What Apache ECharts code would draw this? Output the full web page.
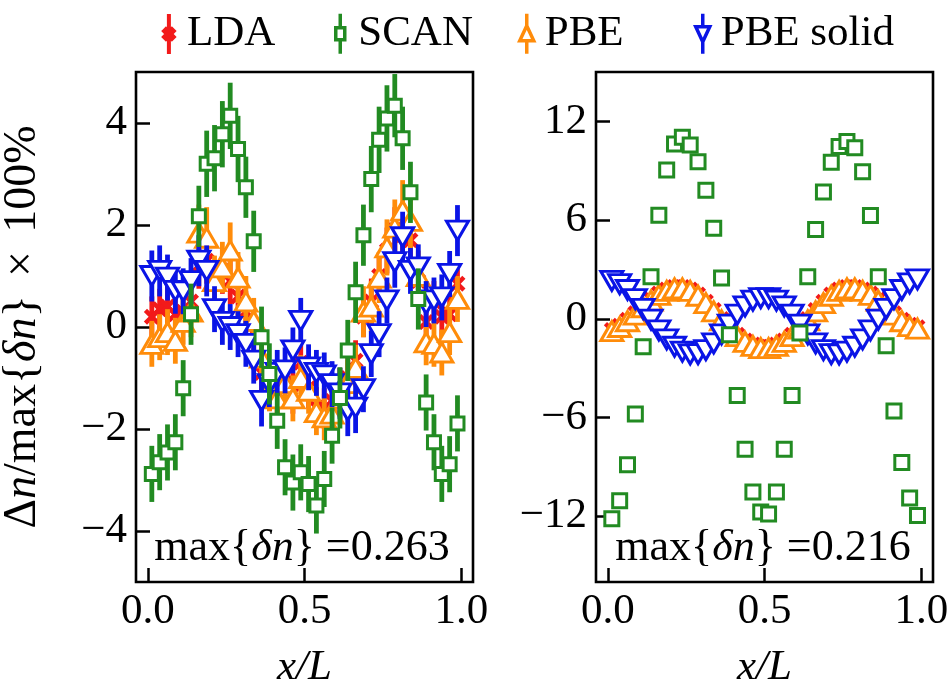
<!DOCTYPE html>
<html><head><meta charset="utf-8">
<script src="https://cdn.jsdelivr.net/npm/echarts@6/dist/echarts.min.js"></script>
<style>html,body{margin:0;padding:0;background:#fff}#c{width:948px;height:693px}</style>
</head><body><div id="c"></div>
<script>
// ---------- data ----------
const xs = [0.0125,0.0375,0.0625,0.0875,0.1125,0.1375,0.1625,0.1875,0.2125,0.2375,0.2625,0.2875,0.3125,0.3375,0.3625,0.3875,0.4125,0.4375,0.4625,0.4875,0.5125,0.5375,0.5625,0.5875,0.6125,0.6375,0.6625,0.6875,0.7125,0.7375,0.7625,0.7875,0.8125,0.8375,0.8625,0.8875,0.9125,0.9375,0.9625,0.9875];

// left panel (max{dn}=0.263), values and error bars
const ldaLeft  = [0.2,0.35,0.4,0.25,0.3,0.5,1.2,1.3,0.85,1.1,0.9,0.6,0.3,-0.1,-0.9,-1.25,-1.3,-1.1,-1.3,-0.7,-1.2,-1.58,-1.6,-1.45,-1.2,-1.0,-0.66,0.2,0.5,1.0,1.5,1.9,1.8,1.7,0.9,0.1,0.5,0.2,0.25,0.85];
const ldaLeftErr = [0.4,0.4,0.4,0.4,0.4,0.4,0.45,0.45,0.45,0.45,0.45,0.4,0.4,0.4,0.4,0.4,0.4,0.4,0.4,0.4,0.4,0.4,0.4,0.4,0.4,0.4,0.4,0.4,0.45,0.45,0.45,0.45,0.45,0.45,0.4,0.4,0.4,0.4,0.4,0.4];
const scanLeft = [-2.88,-2.65,-2.46,-2.26,-1.2,0.25,2.17,3.2,3.31,3.78,4.14,3.49,2.74,1.68,-0.2,-0.92,-1.84,-2.75,-3.05,-2.85,-3.08,-3.5,-2.98,-2.13,-1.39,-0.46,0.68,1.8,2.9,3.67,4.09,4.34,3.7,2.64,0.55,-1.48,-2.26,-2.88,-2.69,-1.89];
const scanLeftErr = [0.55,0.55,0.55,0.55,0.55,0.6,0.6,0.65,0.65,0.65,0.65,0.65,0.6,0.6,0.6,0.6,0.55,0.55,0.55,0.55,0.55,0.55,0.55,0.55,0.6,0.6,0.6,0.6,0.65,0.65,0.65,0.62,0.62,0.6,0.6,0.55,0.55,0.55,0.55,0.55];
const pbeLeft  = [-0.33,-0.2,-0.1,-0.27,0.1,0.3,1.85,1.75,0.9,1.17,1.5,0.97,0.5,0.12,-0.6,-1.2,-1.4,-1.1,-1.4,-1.0,-1.25,-1.67,-1.77,-1.7,-1.4,-1.1,-0.8,0.3,0.4,0.97,1.56,1.95,2.28,2.08,1.0,-0.3,-0.33,-0.5,-0.1,0.55];
const pbeLeftErr = [0.45,0.45,0.45,0.45,0.45,0.5,0.55,0.6,0.5,0.5,0.55,0.5,0.5,0.45,0.45,0.45,0.45,0.45,0.45,0.45,0.45,0.45,0.45,0.45,0.45,0.45,0.45,0.5,0.5,0.5,0.55,0.55,0.6,0.55,0.5,0.45,0.45,0.45,0.45,0.45];
const solLeft  = [1.0,1.1,0.97,0.71,0.7,0.9,1.3,1.1,0.35,0.1,0.0,-0.14,-0.33,-0.66,-1.45,-1.12,-0.9,-0.85,-0.46,0.12,-0.79,-0.9,-0.95,-1.12,-1.3,-1.64,-1.58,-1.22,-0.53,-0.14,0.52,1.27,1.76,1.1,1.17,0.45,0.52,0.58,1.04,1.89];
const solLeftErr = [0.5,0.5,0.45,0.45,0.45,0.45,0.5,0.5,0.45,0.45,0.45,0.45,0.45,0.45,0.5,0.45,0.45,0.45,0.45,0.45,0.45,0.45,0.45,0.45,0.5,0.5,0.5,0.45,0.45,0.45,0.45,0.5,0.5,0.45,0.45,0.45,0.45,0.45,0.45,0.5];

// right panel (max{dn}=0.216)
const ldaRight  = [-0.68,-0.42,-0.06,0.34,0.78,1.18,1.53,1.78,1.93,1.93,1.78,1.48,1.03,0.53,-0.02,-0.52,-0.97,-1.32,-1.57,-1.7,-1.7,-1.57,-1.32,-0.97,-0.52,-0.02,0.53,1.03,1.48,1.78,1.93,1.93,1.78,1.53,1.18,0.78,0.34,-0.06,-0.37,-0.52];
const scanRight = [-12.16,-11.06,-8.87,-5.79,-1.7,2.56,6.3,9.04,10.63,11.04,10.57,9.55,7.81,5.5,2.48,-0.97,-4.67,-7.93,-10.53,-11.75,-11.87,-10.53,-7.93,-4.67,-0.87,2.56,5.42,7.71,9.51,10.47,10.77,10.39,8.93,6.28,2.56,-1.64,-5.61,-8.73,-10.89,-11.96];
const pbeRight  = [-0.75,-0.5,-0.15,0.25,0.7,1.1,1.45,1.7,1.85,1.85,1.7,1.4,0.95,0.45,-0.1,-0.6,-1.05,-1.4,-1.65,-1.78,-1.78,-1.65,-1.4,-1.05,-0.6,-0.1,0.45,0.95,1.4,1.7,1.85,1.85,1.7,1.45,1.1,0.7,0.25,-0.15,-0.45,-0.6];
const solRight  = [2.3,2.1,1.75,1.2,0.6,-0.05,-0.7,-1.25,-1.7,-2.0,-2.17,-2.15,-1.9,-1.5,-0.95,-0.35,0.25,0.75,1.1,1.26,1.26,1.1,0.75,0.25,-0.35,-0.95,-1.5,-1.9,-2.15,-2.17,-2.0,-1.7,-1.25,-0.7,-0.05,0.6,1.2,1.75,2.15,2.4];

const xTicks = [0, 0.5, 1.0];
const yTicksLeft = [-4, -2, 0, 2, 4];
const yTicksRight = [-12, -6, 0, 6, 12];
const seriesNames = ['LDA', 'SCAN', 'PBE', 'PBE solid'];
const annotations = ['max{{i|δn}} =0.263', 'max{{i|δn}} =0.216'];

// ---------- style ----------
const FONT = 'Liberation Serif';
const FS = 43;
const RED = '#f21a1a', GREEN = '#228b22', ORANGE = '#ff8c0a', BLUE = '#0a14e6';
const X_PATH = 'path://M15,29L29,15L50,36L71,15L85,29L64,50L85,71L71,85L50,64L29,85L15,71L36,50Z';

function errSeries(name, gi, ys, es, color, z) {
  return {
    type: 'custom', name: name, xAxisIndex: gi, yAxisIndex: gi, z: z, clip: true,
    data: xs.map((x, i) => [x, ys[i], es[i]]),
    encode: { x: 0, y: 1 },
    renderItem: function (params, api) {
      const x = api.value(0), y = api.value(1), e = api.value(2);
      const p1 = api.coord([x, y - e]), p2 = api.coord([x, y + e]);
      return { type: 'line', shape: { x1: p1[0], y1: p1[1], x2: p2[0], y2: p2[1] },
               style: { stroke: color, lineWidth: 4.8 } };
    }
  };
}
function markSeries(name, gi, ys, symbol, size, style, z, rot) {
  return {
    type: 'scatter', name: name, xAxisIndex: gi, yAxisIndex: gi, z: z,
    symbol: symbol, symbolSize: size, symbolRotate: rot || 0,
    itemStyle: Object.assign({ opacity: 1 }, style),
    emphasis: { disabled: true },
    data: xs.map((x, i) => [x, ys[i]])
  };
}
const sqStyle = { color: '#fff', borderColor: GREEN, borderWidth: 3 };
const upStyle = { color: '#fff', borderColor: ORANGE, borderWidth: 3 };
const dnStyle = { color: '#fff', borderColor: BLUE, borderWidth: 3 };
const xStyle = { color: RED, borderWidth: 0 };

const series = [
  // left
  errSeries('LDA', 0, ldaLeft, ldaLeftErr, RED, 2),
  markSeries('LDA', 0, ldaLeft, X_PATH, 16, xStyle, 3),
  errSeries('PBE', 0, pbeLeft, pbeLeftErr, ORANGE, 4),
  markSeries('PBE', 0, pbeLeft, 'triangle', [22, 19], upStyle, 5),
  errSeries('PBE solid', 0, solLeft, solLeftErr, BLUE, 6),
  markSeries('PBE solid', 0, solLeft, 'triangle', [22, 19], dnStyle, 7, 180),
  errSeries('SCAN', 0, scanLeft, scanLeftErr, GREEN, 8),
  markSeries('SCAN', 0, scanLeft, 'rect', 13, sqStyle, 9),
  // right
  markSeries('LDA', 1, ldaRight, X_PATH, 16, xStyle, 3),
  markSeries('PBE', 1, pbeRight, 'triangle', [22, 19], upStyle, 5),
  markSeries('PBE solid', 1, solRight, 'triangle', [22, 19], dnStyle, 7, 180),
  markSeries('SCAN', 1, scanRight, 'rect', 14, sqStyle, 9)
];

const fmtNum = v => (v < 0 ? '\u2212' + Math.abs(v) : String(v));
function xAxisCfg(gi) {
  return {
    type: 'value', gridIndex: gi, min: -0.038, max: 1.037,
    name: 'x/L', nameLocation: 'middle', nameGap: 64,
    nameTextStyle: { fontFamily: FONT, fontSize: FS, fontStyle: 'italic', color: '#000' },
    axisLine: { show: false, onZero: false },
    axisTick: { show: true, inside: true, length: 14, customValues: xTicks, lineStyle: { color: '#000', width: 2.5 } },
    axisLabel: { show: true, customValues: xTicks, formatter: v => v.toFixed(1), margin: 8,
                 fontFamily: FONT, fontSize: FS, color: '#000' },
    splitLine: { show: false }
  };
}
function yAxisCfg(gi, min, max, ticks, withName) {
  const c = {
    type: 'value', gridIndex: gi, min: min, max: max,
    axisLine: { show: false, onZero: false },
    axisTick: { show: true, inside: true, length: 14, customValues: ticks, lineStyle: { color: '#000', width: 2.5 } },
    axisLabel: { show: true, customValues: ticks, formatter: fmtNum, margin: 9,
                 fontFamily: FONT, fontSize: FS, color: '#000' },
    splitLine: { show: false }
  };
  if (withName) {
    c.name = 'Δ{i|n}/max{{i|δn}}\u2009\u2009×\u2009\u2009100%';
    c.nameLocation = 'middle';
    c.nameRotate = 90;
    c.nameGap = 90;
    c.nameTextStyle = { fontFamily: FONT, fontSize: 46, color: '#000',
                        rich: { i: { fontFamily: FONT, fontSize: 46, fontStyle: 'italic', color: '#000' } } };
  }
  return c;
}

const legendCommon = { top: 12, itemWidth: 26, itemHeight: 40, padding: 0, selectedMode: false,
                       textStyle: { fontFamily: FONT, fontSize: FS, color: '#000' } };
const icons = {
  'LDA': { icon: 'path://M8,0L8,40M3.1,17.06L5.06,15.1L8,18.04L10.94,15.1L12.9,17.06L9.96,20L12.9,22.94L10.94,24.9L8,21.96L5.06,24.9L3.1,22.94L6.04,20Z',
           itemStyle: { color: RED, borderColor: RED, borderWidth: 4 } },
  'SCAN': { icon: 'path://M8,0L8,14M3.5,14L12.5,14L12.5,26L3.5,26ZM8,26L8,40',
            itemStyle: { color: '#fff', borderColor: GREEN, borderWidth: 3.5 } },
  'PBE': { icon: 'path://M8,0L8,12L15,27L1,27L8,12M8,27L8,40',
           itemStyle: { color: '#fff', borderColor: ORANGE, borderWidth: 3.5 } },
  'PBE solid': { icon: 'path://M8,0L8,13M1,13L15,13L8,28ZM8,28L8,40',
                 itemStyle: { color: '#fff', borderColor: BLUE, borderWidth: 3.5 } }
};
const legendLeft = [162, 334, 518, 694];
const legends = seriesNames.map((n, k) => Object.assign({}, legendCommon, {
  left: legendLeft[k],
  data: [{ name: n, icon: icons[n].icon, itemStyle: icons[n].itemStyle }]
}));

const option = {
  animation: false,
  backgroundColor: '#fff',
  grid: [
    { left: 136, top: 72, width: 337, height: 510, show: true, borderColor: '#000', borderWidth: 2.6, backgroundColor: 'transparent', containLabel: false, outerBoundsMode: 'none' },
    { left: 596, top: 72, width: 337, height: 510, show: true, borderColor: '#000', borderWidth: 2.6, backgroundColor: 'transparent', containLabel: false, outerBoundsMode: 'none' }
  ],
  xAxis: [xAxisCfg(0), xAxisCfg(1)],
  yAxis: [yAxisCfg(0, -5, 5, yTicksLeft, true), yAxisCfg(1, -16, 15, yTicksRight, false)],
  legend: legends,
  series: series,
  graphic: [
    { type: 'text', x: 302, y: 548, z: 100,
      style: { text: annotations[0], fontFamily: FONT, fontSize: 44, fill: '#000', align: 'center', verticalAlign: 'middle',
               rich: { i: { fontFamily: FONT, fontSize: 44, fontStyle: 'italic', fill: '#000' } } } },
    { type: 'text', x: 763, y: 548, z: 100,
      style: { text: annotations[1], fontFamily: FONT, fontSize: 44, fill: '#000', align: 'center', verticalAlign: 'middle',
               rich: { i: { fontFamily: FONT, fontSize: 44, fontStyle: 'italic', fill: '#000' } } } }
  ]
};
const chart = echarts.init(document.getElementById('c'), null, { renderer: 'canvas' });
chart.setOption(option);
</script></body></html>
